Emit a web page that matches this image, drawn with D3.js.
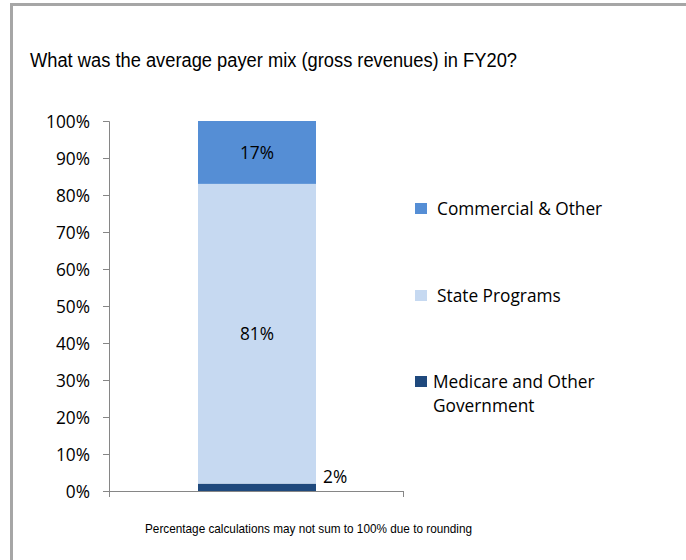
<!DOCTYPE html>
<html><head><meta charset="utf-8">
<script src="https://cdn.jsdelivr.net/npm/d3@7"></script>
<style>body{margin:0;background:#fff}svg{display:block}</style>
</head><body>
<script>
const categories = ["FY20"];
const seriesNames = ["Medicare and Other Government", "State Programs", "Commercial & Other"];
const seriesValues = [[2], [81], [17]];
const valueLabels = ["2%", "81%", "17%"];
const tickValues = [0,10,20,30,40,50,60,70,80,90,100];
const colors = ["#1F497D", "#C6D9F1", "#558ED5"];
const legendOrder = [2, 1, 0];
const legendLines = [["Medicare and Other", "Government"], ["State Programs"], ["Commercial & Other"]];

const W = 686, H = 560;
const svg = d3.select("body").append("svg").attr("width", W).attr("height", H);
const font = "'Open Sans', sans-serif";
const fs = 17.3;

// frame
svg.append("rect").attr("x", 10).attr("y", 3).attr("width", W - 10).attr("height", 3).attr("fill", "#a6a6a6");
svg.append("rect").attr("x", 10).attr("y", 3).attr("width", 3).attr("height", H - 3).attr("fill", "#a6a6a6");

svg.append("text").attr("x", 30).attr("y", 67).attr("font-family", "'Liberation Sans', Arial, sans-serif")
  .attr("font-size", 20).attr("fill", "#000").attr("textLength", 487).attr("lengthAdjust", "spacingAndGlyphs")
  .text("What was the average payer mix (gross revenues) in FY20?");

const y = d3.scaleLinear().domain([0, 100]).range([491, 121]);
const x = d3.scaleBand().domain(categories).range([109, 403]).paddingInner(0.3).paddingOuter(0.3);

const yAxis = d3.axisLeft(y).tickValues(tickValues).tickFormat(d => d + "%").tickSize(6).tickPadding(13);
const gy = svg.append("g").attr("transform", "translate(109,0)").call(yAxis);
gy.select(".domain").attr("stroke", "#868686").attr("d", "M-6,121.5H0.5V491.5");
gy.selectAll(".tick line").attr("stroke", "#868686");
gy.selectAll(".tick text").attr("font-family", font).attr("font-size", fs).attr("fill", "#000").attr("dy", "0.36em");

const xAxis = d3.axisBottom(d3.scaleLinear().domain([0, 1]).range([109, 403])).tickValues([0, 1]).tickFormat("").tickSize(6);
const gx = svg.append("g").attr("transform", "translate(0,491)").call(xAxis);
gx.select(".domain").attr("stroke", "#868686").attr("d", "M109.5,0.5H403.5");
gx.selectAll(".tick line").attr("stroke", "#868686");

// stacked bar
const stackData = categories.map((c, i) => {
  const o = {cat: c};
  seriesNames.forEach((s, j) => o[s] = seriesValues[j][i]);
  return o;
});
const stack = d3.stack().keys(seriesNames)(stackData);
const bw = 118, bx = 198;
stack.forEach((layer, j) => {
  layer.forEach(d => {
    svg.append("rect").attr("x", bx).attr("width", bw)
      .attr("y", y(d[1])).attr("height", y(d[0]) - y(d[1])).attr("fill", colors[j]);
  });
});
// labels
stack.forEach((layer, j) => {
  layer.forEach(d => {
    const t = svg.append("text").attr("font-family", font).attr("font-size", fs).attr("fill", "#000").text(valueLabels[j]);
    if (j === 0) {
      t.attr("x", bx + bw + 7).attr("y", y(d[1]) - 0.5).attr("text-anchor", "start");
    } else {
      t.attr("x", bx + bw / 2).attr("y", (y(d[0]) + y(d[1])) / 2).attr("dy", "0.36em").attr("text-anchor", "middle");
    }
  });
});

// legend
const legY = {2: 209, 1: 296, 0: 382};
legendOrder.forEach(j => {
  const cy = legY[j];
  svg.append("rect").attr("x", 415).attr("y", cy - 6).attr("width", 12).attr("height", 11).attr("fill", colors[j]);
  const lx = j === 0 ? 433 : 437;
  legendLines[j].forEach((ln, k) => {
    svg.append("text").attr("x", lx).attr("y", cy + k * 24).attr("dy", "0.36em").attr("font-family", font)
      .attr("font-size", fs).attr("fill", "#000").text(ln);
  });
});

svg.append("text").attr("x", 145).attr("y", 533).attr("font-family", "'Liberation Sans', Arial, sans-serif")
  .attr("font-size", 13.5).attr("fill", "#000").attr("textLength", 327).attr("lengthAdjust", "spacingAndGlyphs")
  .text("Percentage calculations may not sum to 100% due to rounding");
</script>
</body></html>
